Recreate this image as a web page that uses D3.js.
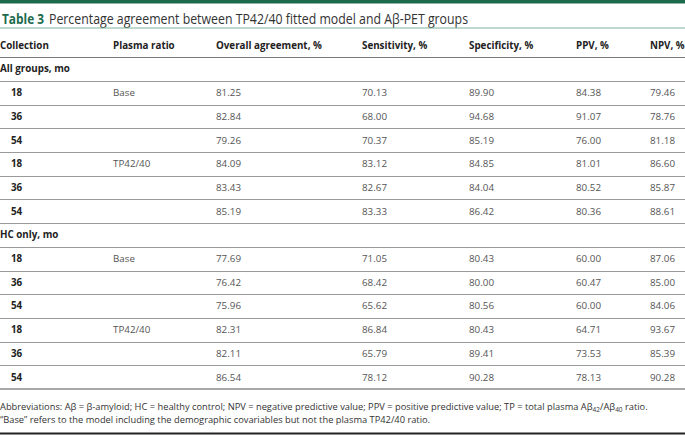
<!DOCTYPE html>
<html>
<head>
<meta charset="utf-8">
<script src="https://cdn.jsdelivr.net/npm/d3@7"></script>
<style>
  body { margin: 0; background: #fff; }
  svg { display: block; font-family: 'Open Sans', sans-serif; }
</style>
</head>
<body>
<svg></svg>
<script>
(function (d3) {
    'use strict';

    const headers = ['Collection', 'Plasma ratio', 'Overall agreement, %', 'Sensitivity, %', 'Specificity, %', 'PPV, %', 'NPV, %'];
    const groups = ['All groups, mo', 'HC only, mo'];
    const months = ['18', '36', '54', '18', '36', '54'];
    const ratios = ['Base', '', '', 'TP42/40', '', ''];

    // each list: all groups (6 rows) then HC only (6 rows)
    const overall = [81.25, 82.84, 79.26, 84.09, 83.43, 85.19, 77.69, 76.42, 75.96, 82.31, 82.11, 86.54];
    const sensitivity = [70.13, 68.00, 70.37, 83.12, 82.67, 83.33, 71.05, 68.42, 65.62, 86.84, 65.79, 78.12];
    const specificity = [89.90, 94.68, 85.19, 84.85, 84.04, 86.42, 80.43, 80.00, 80.56, 80.43, 89.41, 90.28];
    const ppv = [84.38, 91.07, 76.00, 81.01, 80.52, 80.36, 60.00, 60.47, 60.00, 64.71, 73.53, 78.13];
    const npv = [79.46, 78.76, 81.18, 86.60, 85.87, 88.61, 87.06, 85.00, 84.06, 93.67, 85.39, 90.28];

    const width = 685;
    const height = 435;
    const green = '#1d6b4c';

    const svg = d3.select('svg')
        .attr('width', width)
        .attr('height', height);

    // build row list: header, group label, 6 rows, group label, 6 rows
    const rows = [];
    rows.push({type: 'header'});
    groups.forEach((gName, gi) => {
        rows.push({type: 'group', label: gName});
        months.forEach((m, i) => {
            const k = gi * 6 + i;
            rows.push({type: 'data', cells: [m, ratios[i], overall[k], sensitivity[k], specificity[k], ppv[k], npv[k]]});
        });
    });

    const y = d3.scaleBand()
        .domain(d3.range(rows.length))
        .range([33.5, 389]);

    const colX = [0, 113, 216, 362, 469, 576, 650];

    // top bar
    svg.append('rect')
        .attr('x', 0).attr('y', 0)
        .attr('width', width).attr('height', 3.5)
        .attr('fill', green);

    // title
    svg.append('text')
        .attr('x', 2).attr('y', 24)
        .attr('font-size', 13.8).attr('font-weight', 700)
        .attr('fill', green)
        .attr('textLength', 42).attr('lengthAdjust', 'spacingAndGlyphs')
        .text('Table 3');
    svg.append('text')
        .attr('x', 49).attr('y', 24)
        .attr('font-size', 13.8)
        .attr('fill', '#333')
        .attr('textLength', 419).attr('lengthAdjust', 'spacingAndGlyphs')
        .text('Percentage agreement between TP42/40 fitted model and A\u03b2-PET groups');

    svg.append('line')
        .attr('x1', 0).attr('x2', width)
        .attr('y1', 28).attr('y2', 28)
        .attr('stroke', '#7fb39c').attr('stroke-width', 1);

    const g = svg.append('g');

    rows.forEach((r, i) => {
        const cy = y(i) + y.bandwidth() / 2;
        if (r.type === 'header') {
            headers.forEach((h, c) => {
                g.append('text')
                    .attr('x', colX[c]).attr('y', cy).attr('dy', '0.35em')
                    .attr('font-size', 9.8).attr('font-weight', 700)
                    .attr('fill', '#222')
                    .text(h);
            });
        } else if (r.type === 'group') {
            g.append('text')
                .attr('x', 0).attr('y', cy).attr('dy', '0.35em')
                .attr('font-size', 9.8).attr('font-weight', 700)
                .attr('fill', '#222')
                .text(r.label);
        } else {
            r.cells.forEach((v, c) => {
                g.append('text')
                    .attr('x', c === 0 ? 11 : colX[c]).attr('y', cy).attr('dy', '0.35em')
                    .attr('font-size', 9.8)
                    .attr('font-weight', c === 0 ? 700 : 400)
                    .attr('fill', c === 0 ? '#222' : '#555')
                    .text(typeof v === 'number' ? v.toFixed(2) : v);
            });
        }
        // separator under each row except the last
        if (i < rows.length - 1) {
            const ly = Math.round(y(i) + y.bandwidth()) + 0.5;
            g.append('line')
                .attr('x1', 0).attr('x2', width)
                .attr('y1', ly).attr('y2', ly)
                .attr('stroke', r.type === 'header' ? '#7a7a7a' : '#9a9a9a')
                .attr('stroke-width', 1);
        }
    });

    // bottom rule of table
    svg.append('line')
        .attr('x1', 0).attr('x2', width)
        .attr('y1', 389).attr('y2', 389)
        .attr('stroke', '#a8a8a8').attr('stroke-width', 2);

    // footnote
    const fn1 = svg.append('text')
        .attr('x', 0).attr('y', 409.5)
        .attr('font-size', 9.3).attr('fill', '#333');
    fn1.append('tspan').text('Abbreviations: A\u03b2 = \u03b2-amyloid; HC = healthy control; NPV = negative predictive value; PPV = positive predictive value; TP = total plasma A\u03b2');
    fn1.append('tspan').attr('font-size', 6.5).attr('dy', 2).text('42');
    fn1.append('tspan').attr('dy', -2).text('/A\u03b2');
    fn1.append('tspan').attr('font-size', 6.5).attr('dy', 2).text('40');
    fn1.append('tspan').attr('dy', -2).text(' ratio.');

    svg.append('text')
        .attr('x', 0).attr('y', 422.5)
        .attr('font-size', 9.3).attr('fill', '#333')
        .text('\u201cBase\u201d refers to the model including the demographic covariables but not the plasma TP42/40 ratio.');

    svg.append('line')
        .attr('x1', 0).attr('x2', width)
        .attr('y1', 433.5).attr('y2', 433.5)
        .attr('stroke', '#222').attr('stroke-width', 2);
}(d3));
</script>
</body>
</html>
